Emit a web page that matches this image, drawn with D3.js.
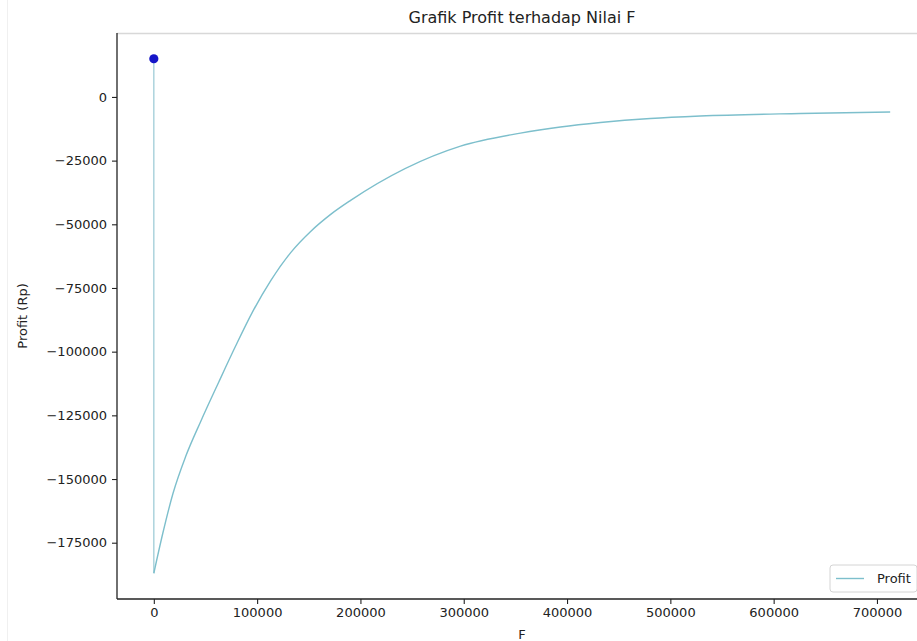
<!DOCTYPE html>
<html>
<head>
<meta charset="utf-8">
<script src="https://cdn.jsdelivr.net/npm/d3@7"></script>
<style>
  html, body { margin: 0; padding: 0; background: #ffffff; }
  svg { display: block; }
  text { font-family: "DejaVu Sans", "Liberation Sans", sans-serif; fill: #222; }
</style>
</head>
<body>
<svg id="chart" width="917" height="641"></svg>
<script>
// ---- data ----
const fValues = [0, 0, 8700, 18400, 30900, 45500, 62900, 79300, 95700, 113200, 132500, 151800,
                 171200, 190500, 296900, 354900, 393600, 432300, 480600, 529000, 625700, 712800];
const profitValues = [15000, -187000, -171300, -155900, -141100, -127300, -111900, -97700, -84300,
                      -72100, -61100, -52800, -46100, -40600, -19300, -14200, -11800, -10050, -8470,
                      -7490, -6500, -5910];
const optimumF = [0];
const optimumProfit = [15000];
const xTickValues = [0, 100000, 200000, 300000, 400000, 500000, 600000, 700000];
const yTickValues = [0, -25000, -50000, -75000, -100000, -125000, -150000, -175000];
const titleText = "Grafik Profit terhadap Nilai F";
const xLabelText = "F";
const yLabelText = "Profit (Rp)";
const seriesName = "Profit";

// ---- layout ----
const W = 917, H = 641;
const plot = { left: 117, right: 927, top: 33, bottom: 599 };
const svg = d3.select("#chart");

svg.append("rect").attr("width", W).attr("height", H).attr("fill", "#fff");
svg.append("line").attr("x1", 7.5).attr("x2", 7.5).attr("y1", 0).attr("y2", H)
  .attr("stroke", "#f0f0f0").attr("stroke-width", 1);

const pts = fValues.map((f, i) => ({ f: f, p: profitValues[i] }));
const fExt = d3.extent(fValues);
const pExt = d3.extent(profitValues.concat(optimumProfit));
const fPad = (fExt[1] - fExt[0]) * 0.05;
const pPad = (pExt[1] - pExt[0]) * 0.05;

const x = d3.scaleLinear().domain([fExt[0] - fPad, fExt[1] + fPad]).range([plot.left, plot.right]);
const y = d3.scaleLinear().domain([pExt[0] - pPad, pExt[1] + pPad]).range([plot.bottom, plot.top]);

svg.append("clipPath").attr("id", "clip").append("rect")
  .attr("x", plot.left).attr("y", plot.top)
  .attr("width", plot.right - plot.left).attr("height", plot.bottom - plot.top);

// top spine (light)
svg.append("line").attr("x1", plot.left).attr("x2", plot.right)
  .attr("y1", plot.top + 0.5).attr("y2", plot.top + 0.5)
  .attr("stroke", "#d8d8d8").attr("stroke-width", 1.5);

const lineColor = "#7dbfcc";
// vertical drop at F = 0 (first two points)
const straight = d3.line().x(d => x(d.f)).y(d => y(d.p));
svg.append("path").datum(pts.slice(0, 2))
  .attr("clip-path", "url(#clip)")
  .attr("d", straight)
  .attr("fill", "none")
  .attr("stroke", "#a6d0da")
  .attr("stroke-width", 1.4);

// smooth rising curve (from the minimum onward)
const curve = d3.line().x(d => x(d.f)).y(d => y(d.p)).curve(d3.curveMonotoneX);
svg.append("path").datum(pts.slice(1))
  .attr("clip-path", "url(#clip)")
  .attr("d", curve)
  .attr("fill", "none")
  .attr("stroke", lineColor)
  .attr("stroke-width", 1.4)
  .attr("stroke-linejoin", "round");

// optimum point
svg.selectAll("circle.opt").data(optimumF.map((f, i) => ({ f: f, p: optimumProfit[i] })))
  .enter().append("circle").attr("class", "opt")
  .attr("cx", d => x(d.f)).attr("cy", d => y(d.p)).attr("r", 4.6)
  .attr("fill", "#1616c8");

// axes
const fmt = d3.format("d");
const xAxis = d3.axisBottom(x).tickValues(xTickValues).tickFormat(fmt).tickSize(5).tickPadding(4);
const yAxis = d3.axisLeft(y).tickValues(yTickValues).tickFormat(fmt).tickSize(5).tickPadding(5);

const gx = svg.append("g").attr("transform", `translate(0,${plot.bottom})`).call(xAxis);
const gy = svg.append("g").attr("transform", `translate(${plot.left},0)`).call(yAxis);
[gx, gy].forEach(g => {
  g.select(".domain").attr("stroke", "#222").attr("stroke-width", 1.3);
  g.selectAll(".tick line").attr("stroke", "#222").attr("stroke-width", 1.1);
  g.selectAll(".tick text").attr("font-size", "13px").attr("fill", "#333")
    .style("font-family", "'DejaVu Sans', sans-serif");
});
gx.select(".domain").attr("d", `M${plot.left},0H${plot.right}`);
gy.select(".domain").attr("d", `M0,${plot.top}V${plot.bottom}`);

// title and labels
const cx = (plot.left + plot.right) / 2;
svg.append("text").attr("x", cx).attr("y", 23).attr("text-anchor", "middle")
  .attr("font-size", "16px").attr("fill", "#333").text(titleText);
svg.append("text").attr("x", cx).attr("y", 639).attr("text-anchor", "middle")
  .attr("font-size", "13px").attr("fill", "#333").text(xLabelText);
svg.append("text")
  .attr("transform", `translate(27,${(plot.top + plot.bottom) / 2}) rotate(-90)`)
  .attr("text-anchor", "middle").attr("font-size", "13px").attr("fill", "#333").text(yLabelText);

// legend (lower right)
const lg = svg.append("g").attr("transform", `translate(${plot.right - 97},${plot.bottom - 34})`);
lg.append("rect").attr("x", 0).attr("y", 0).attr("width", 87).attr("height", 27)
  .attr("rx", 3).attr("fill", "#fff").attr("fill-opacity", 0.85)
  .attr("stroke", "#d4d4d4").attr("stroke-width", 1);
lg.append("line").attr("x1", 6).attr("x2", 34).attr("y1", 13.5).attr("y2", 13.5)
  .attr("stroke", lineColor).attr("stroke-width", 1.4);
lg.append("text").attr("x", 47).attr("y", 18).attr("font-size", "13px").attr("fill", "#333").text(seriesName);
</script>
</body>
</html>
